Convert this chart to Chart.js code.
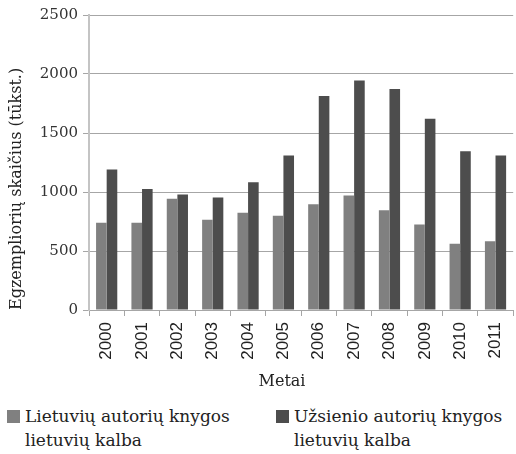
<!DOCTYPE html>
<html>
<head>
<meta charset="utf-8">
<script src="https://cdn.jsdelivr.net/npm/chart.js@4"></script>
<style>
  html, body { margin: 0; padding: 0; background: #fff; overflow: hidden; }
  #wrap { position: relative; width: 522px; height: 398px; }
  .legend { position: absolute; top: 404px; font-family: "DejaVu Serif", serif; font-size: 17px; line-height: 24px; color: #222; }
  .legend .box { position: absolute; left: 0; top: 6px; width: 13px; height: 13px; }
  .legend .txt { margin-left: 18px; }
</style>
</head>
<body>
<div id="wrap"><canvas id="chart"></canvas></div>
<div class="legend" style="left:7px"><span class="box" style="background:#808080"></span><div class="txt">Lietuvių autorių knygos<br>lietuvių kalba</div></div>
<div class="legend" style="left:276px"><span class="box" style="background:#4d4d4d"></span><div class="txt">Užsienio autorių knygos<br>lietuvių kalba</div></div>
<script>
// book print runs, thousands of copies
const years = ['2000','2001','2002','2003','2004','2005','2006','2007','2008','2009','2010','2011'];
const lithuanianAuthors = [740, 740, 942, 765, 824, 798, 896, 970, 846, 725, 562, 582];
const foreignAuthors = [1190, 1025, 978, 953, 1082, 1310, 1813, 1945, 1872, 1621, 1346, 1310];
const seriesNames = ['Lietuvių autorių knygos lietuvių kalba', 'Užsienio autorių knygos lietuvių kalba'];

const serif = '"DejaVu Serif", serif';

// "Metai" sits a bit left of the plot centre in the original
const xTitle = {
  id: 'xTitle',
  afterDraw(chart) {
    const c = chart.ctx;
    c.save();
    c.font = '16px ' + serif;
    c.fillStyle = '#222';
    c.textAlign = 'center';
    c.textBaseline = 'middle';
    c.fillText('Metai', chart.chartArea.left + 193, 382);
    c.restore();
  }
};

new Chart(document.getElementById('chart'), {
  type: 'bar',
  data: {
    labels: years,
    datasets: [
      { label: seriesNames[0], data: lithuanianAuthors, backgroundColor: '#808080' },
      { label: seriesNames[1], data: foreignAuthors, backgroundColor: '#4d4d4d' }
    ]
  },
  options: {
    responsive: true,
    maintainAspectRatio: false,
    animation: false,
    layout: { padding: { top: 15, right: 2, bottom: 0, left: 0 } },
    categoryPercentage: 0.6,
    barPercentage: 1.0,
    plugins: { legend: { display: false }, tooltip: { enabled: false } },
    scales: {
      x: {
        afterFit(s) { s.height = 88; },
        grid: { offset: true, drawOnChartArea: false, color: '#a6a6a6', tickLength: 6 },
        border: { color: '#a6a6a6' },
        ticks: {
          minRotation: 90, maxRotation: 90, padding: 6,
          color: '#222', font: { family: '"Liberation Sans", sans-serif', size: 17 }
        }
      },
      y: {
        min: 0, max: 2500,
        afterFit(s) { s.width = 89; },
        grid: { color: '#a6a6a6', tickLength: 6 },
        border: { color: '#c4c4c4', width: 2 },
        ticks: {
          stepSize: 500, padding: 5, color: '#333', font: { family: serif, size: 15 },
          callback: v => String(v)
        },
        title: {
          display: true, text: 'Egzempliorių skaičius (tūkst.)', align: 'start',
          color: '#222', font: { family: serif, size: 16 }, padding: { top: 7, bottom: 0 }
        }
      }
    }
  },
  plugins: [xTitle]
});
</script>
</body>
</html>
